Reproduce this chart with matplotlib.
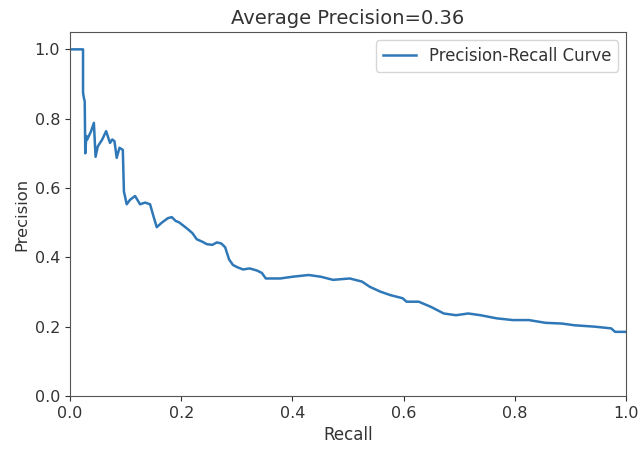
import matplotlib
matplotlib.use("Agg")
import matplotlib.pyplot as plt

recall = [0.0, 0.0235, 0.0235, 0.025, 0.0265, 0.0275, 0.0295, 0.031, 0.038, 0.043, 0.046, 0.050,
          0.058, 0.065, 0.072, 0.076, 0.080, 0.084, 0.089, 0.095, 0.097, 0.102, 0.108, 0.117,
          0.126, 0.135, 0.144, 0.150, 0.156, 0.165, 0.176, 0.183, 0.190, 0.196, 0.205, 0.212,
          0.220, 0.228, 0.238, 0.246, 0.256, 0.264, 0.272, 0.279, 0.286, 0.293, 0.300, 0.311,
          0.323, 0.336, 0.345, 0.352, 0.378, 0.40, 0.429, 0.451, 0.473, 0.503, 0.525, 0.539,
          0.558, 0.576, 0.598, 0.605, 0.627, 0.649, 0.672, 0.694, 0.716, 0.738, 0.767, 0.796,
          0.825, 0.855, 0.884, 0.907, 0.943, 0.973, 0.980, 1.0]
precision = [1.0, 1.0, 0.875, 0.86, 0.85, 0.70, 0.75, 0.74, 0.764, 0.788, 0.69, 0.72,
             0.74, 0.764, 0.73, 0.74, 0.735, 0.687, 0.716, 0.71, 0.59, 0.553, 0.566, 0.577,
             0.553, 0.558, 0.553, 0.519, 0.487, 0.50, 0.513, 0.516, 0.505, 0.501, 0.490, 0.481,
             0.470, 0.452, 0.445, 0.438, 0.436, 0.443, 0.440, 0.429, 0.394, 0.378, 0.372, 0.365,
             0.368, 0.362, 0.355, 0.339, 0.339, 0.344, 0.349, 0.344, 0.335, 0.339, 0.33, 0.315,
             0.301, 0.291, 0.282, 0.272, 0.272, 0.257, 0.238, 0.233, 0.238, 0.233, 0.224, 0.219,
             0.219, 0.211, 0.209, 0.204, 0.20, 0.195, 0.185, 0.185]

fig = plt.figure(figsize=(6.39, 4.51), dpi=100)
ax = fig.add_axes([0.1095, 0.122, 0.8705, 0.807])
ax.plot(recall, precision, color="#2f78b8", lw=1.8, label="Precision-Recall Curve")
ax.set_xlim(0, 1)
ax.set_ylim(0, 1.05)
ax.set_xticks([0.0, 0.2, 0.4, 0.6, 0.8, 1.0])
ax.set_yticks([0.0, 0.2, 0.4, 0.6, 0.8, 1.0])
ax.tick_params(labelsize=11.5, colors="#333333")
for s in ax.spines.values():
    s.set_color("#555555")
ax.set_xlabel("Recall", fontsize=12, color="#333333")
ax.set_ylabel("Precision", fontsize=11.8, color="#333333")
ax.set_title("Average Precision=0.36", fontsize=14, color="#333333")
ax.legend(loc="upper right", fontsize=11.9, labelcolor="#333333")
fig.savefig("out.png", dpi=100)
